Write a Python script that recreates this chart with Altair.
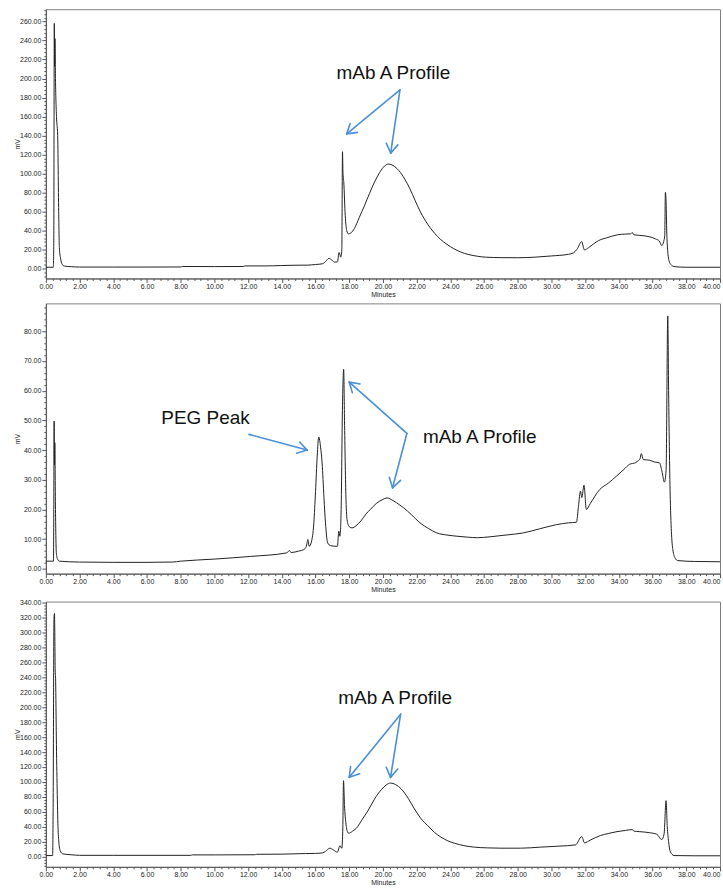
import math
import altair as alt
import pandas as pd

# ---------------- data ----------------
T1 = [0.0, 0.44, 0.47, 0.50, 0.52, 0.54, 0.57, 0.63, 0.70, 0.76, 0.80, 0.88, 0.95, 1.10, 1.5, 2.0, 4.0, 6.0, 8.0, 8.1,
      10.0, 11.7, 11.8, 13.0, 14.0, 15.2, 15.5, 16.0, 16.4, 16.6, 16.8, 17.0, 17.15, 17.3, 17.4, 17.5, 17.56, 17.6, 17.63,
      17.68, 17.75, 17.85, 17.95, 18.1, 18.3, 18.6, 18.9, 19.2, 19.5, 19.8, 20.1, 20.35, 20.6, 20.95, 21.3, 21.6, 21.9,
      22.2, 22.5, 22.8, 23.1, 23.4, 23.8, 24.2, 24.6, 25.1, 25.6, 26.1, 27.0, 28.0, 29.0, 30.0, 31.0, 31.3, 31.5, 31.8,
      31.9, 31.95, 32.2, 32.5, 32.8, 33.3, 33.9, 34.4, 34.7, 34.78, 34.9, 35.5, 36.18, 36.4, 36.54, 36.65, 36.72, 36.76,
      36.8, 36.85, 36.97, 37.1, 37.27, 38.0, 40.0]
V1 = [1.4, 1.4, 30, 258, 213, 242, 200, 160, 140, 60, 22, 10, 5, 2.6, 2.0, 1.6, 1.6, 1.6, 1.7, 2.2,
      2.1, 2.2, 2.8, 2.8, 3.2, 3.6, 3.6, 4.3, 5.0, 7.5, 10.8, 8.5, 6.7, 7.0, 17, 12, 20, 123, 100,
      90, 60, 40, 36.5, 37.5, 42, 54, 66, 79, 91, 101, 108, 110, 108.5, 103, 94, 84, 72,
      60.5, 51, 43, 36.5, 31, 25.5, 21, 17.5, 14.7, 13, 12, 11.5, 11.4, 12.0, 13.3, 15, 16.5, 20, 28.4,
      22, 19.6, 22, 26, 29.5, 32.5, 35.5, 36.3, 36.5, 38, 35.5, 34.5, 31.2, 29, 24.2, 28, 35, 80.3,
      70, 33, 8.4, 4, 2.1, 1.4, 1.4]

T2 = [0.0, 0.45, 0.47, 0.49, 0.51, 0.53, 0.57, 0.62, 0.7, 0.8, 2.0, 4.0, 6.0, 7.5, 8.0, 10.0, 12.15, 14.3, 14.45,
      14.55, 15.0, 15.3, 15.45, 15.55, 15.62, 15.75, 15.9, 16.0, 16.1, 16.19, 16.3, 16.39, 16.5, 16.59, 16.72, 16.9,
      17.3, 17.38, 17.45, 17.52, 17.6, 17.67, 17.72, 17.8, 17.87, 18.0, 18.17, 18.4, 18.7, 19.0, 19.25, 19.6, 20.0,
      20.24, 20.6, 21.0, 21.22, 21.7, 22.2, 22.7, 23.2, 23.8, 24.4, 25.0, 25.6, 26.35, 27.3, 28.32, 29.3, 30.3, 31.0,
      31.48, 31.6, 31.72, 31.8, 31.93, 32.07, 32.3, 32.86, 33.4, 33.85, 34.3, 34.63, 35.0, 35.12, 35.25, 35.33, 35.45,
      35.82, 36.1, 36.41, 36.55, 36.7, 36.8, 36.9, 36.95, 37.05, 37.2, 37.35, 37.49, 38.5, 40.0]
V2 = [2.6, 2.6, 20, 49.8, 35, 42.5, 20, 5.4, 3.2, 2.6, 2.3, 2.2, 2.2, 2.3, 2.6, 3.3, 4.2, 5.4, 6.2,
      5.5, 6.0, 6.5, 7.5, 9.9, 7.6, 9.0, 15.5, 26, 38, 44.4, 41, 35.7, 24, 15.5, 8.8, 7.8,
      7.6, 12.7, 11, 20, 55, 67.2, 50, 25, 16.6, 14.2, 13.8, 14.5, 16.2, 18.5, 20, 22, 23.4,
      23.9, 23, 21.5, 20.6, 18.2, 15.5, 13.6, 12.1, 11.4, 11.0, 10.7, 10.5, 10.8, 11.4, 12.1, 13.5, 14.9, 15.5,
      15.7, 21, 26.2, 24, 28.2, 20, 22, 26.7, 29, 31.2, 33.5, 35.2, 35.8, 36.3, 37, 38.8, 36.8,
      36.6, 36, 35.7, 33, 29.2, 33, 85.2, 60, 23.4, 6.5, 3.5, 2.8, 2.5, 2.4]

T3 = [0.0, 0.40, 0.43, 0.48, 0.51, 0.53, 0.55, 0.58, 0.62, 0.67, 0.72, 0.77, 0.85, 1.0, 1.5, 2.0, 4.0, 6.0, 8.6, 8.7,
      10.0, 12.4, 12.5, 14.0, 15.4, 16.0, 16.4, 16.6, 16.85, 17.05, 17.3, 17.45, 17.56, 17.62, 17.66, 17.72, 17.8,
      17.9, 17.97, 18.2, 18.5, 18.72, 19.1, 19.5, 19.9, 20.2, 20.45, 20.75, 21.09, 21.5, 21.87, 22.25, 22.66, 23.05,
      23.45, 23.85, 24.24, 24.8, 25.42, 26.2, 27.0, 28.17, 29.36, 30.5, 31.42, 31.8, 31.96, 32.3, 32.9, 33.4, 33.89,
      34.4, 34.79, 34.9, 35.2, 35.8, 36.25, 36.54, 36.68, 36.8, 36.87, 36.95, 37.03, 37.15, 37.27, 38.5, 40.0]
V3 = [1.3, 1.3, 60, 318, 325.8, 300, 252, 235, 160, 90.5, 40, 19.2, 8, 3.6, 2.4, 1.6, 1.6, 1.6, 1.6, 2.2,
      2.2, 2.4, 3.0, 3.2, 4.0, 4.2, 4.8, 7, 11.2, 9, 5.8, 14.7, 11, 40, 101.6, 68, 45,
      33, 31.3, 34, 40, 48, 61, 77, 89.5, 96, 98.5, 96.5, 90.5, 78, 63.8, 51, 41.4, 32.5,
      25.9, 21, 17.9, 14.6, 12.6, 11.6, 11.2, 11.2, 12.6, 14, 15.6, 26.7, 18.3, 22, 28.1, 31, 33.4,
      35, 36.1, 34, 33.4, 32, 29.9, 22.7, 30, 74.9, 40, 20, 8, 3, 1.3, 1.0, 1.0]

# annotations: label text, label anchor (min, mV), arrow sources and tips (min, mV)
LABELS = [
    [("mAb A Profile", 17.25, 206.3)],
    [("PEG Peak", 6.85, 50.9), ("mAb A Profile", 22.37, 44.4)],
    [("mAb A Profile", 17.35, 213.1)],
]
ARROWS = [
    [((21.01, 188.1), (17.85, 141.8)), ((21.01, 188.1), (20.46, 121.4))],
    [((12.05, 45.3), (15.5, 40.0)), ((21.42, 45.6), (18.0, 62.9)), ((21.42, 45.6), (20.57, 27.3))],
    [((21.05, 190.8), (18.0, 106.1)), ((21.05, 190.8), (20.45, 106.1))],
]

YDOMAINS = [[-10.4, 273.0], [-1.6, 89.4], [-13.8, 341.7]]
YMAJOR = [20, 10, 20]
YMINOR = [4, 2, 4]
HEIGHTS = [270, 271, 266]
WIDTH = 676
XMAX = 40.0

FONT = "Liberation Sans"
BLUE = "#4a8fd8"


def panel(T, V, ydom, ymaj, ymin_step, height, labels, arrows):
    df = pd.DataFrame({"t": T, "v": V})
    xvals = [round(i * 0.4, 4) for i in range(int(XMAX / 0.4) + 1)]
    lo = math.ceil(ydom[0] / ymin_step)
    hi = math.floor(ydom[1] / ymin_step)
    yvals = [round(k * ymin_step, 4) for k in range(lo, hi + 1)]

    xmajor = "abs(datum.value/2 - round(datum.value/2)) < 0.000001"
    xaxis = alt.Axis(
        values=xvals,
        labelExpr=f"{xmajor} ? format(datum.value, '.2f') : ''",
        tickSize={"condition": {"test": xmajor, "value": 4}, "value": 2},
        labelAlign={"condition": {"test": f"datum.value >= {XMAX}", "value": "right"}, "value": "center"},
        labelOverlap=False, labelFlush=False, labelPadding=0, titlePadding=1, title="Minutes",
    )
    ymajor = f"abs(datum.value/{ymaj} - round(datum.value/{ymaj})) < 0.000001"
    yaxis = alt.Axis(
        values=yvals,
        labelExpr=f"{ymajor} && datum.value >= 0 ? format(datum.value, '.2f') : ''",
        tickSize={"condition": {"test": ymajor, "value": 4}, "value": 2},
        labelOverlap=False, labelFlush=False, labelPadding=1, titlePadding=0,
        minExtent=25, maxExtent=25, title="mV",
    )
    X = alt.X("t:Q", scale=alt.Scale(domain=[0, XMAX], nice=False, zero=False), axis=xaxis)
    Y = alt.Y("v:Q", scale=alt.Scale(domain=ydom, nice=False, zero=False), axis=yaxis)

    line = alt.Chart(df).mark_line(color="#222222", strokeWidth=1, interpolate="monotone").encode(x=X, y=Y)

    ldf = pd.DataFrame({"label": [l[0] for l in labels], "t": [l[1] for l in labels], "v": [l[2] for l in labels]})
    text = alt.Chart(ldf).mark_text(
        align="left", baseline="middle", font=FONT, fontSize=19, color="#111111"
    ).encode(x=X, y=Y, text="label:N")

    # arrow shafts and open heads (heads built in pixel space, converted back to data units)
    sx = WIDTH / XMAX
    sy = height / (ydom[1] - ydom[0])
    segs = []
    for (s, tip) in arrows:
        segs.append((s[0], s[1], tip[0], tip[1]))
        dx = (tip[0] - s[0]) * sx
        dy = -(tip[1] - s[1]) * sy
        n = math.hypot(dx, dy)
        ux, uy = dx / n, dy / n
        L = 11.0
        for ang in (math.radians(32), -math.radians(32)):
            rx = ux * math.cos(ang) - uy * math.sin(ang)
            ry = ux * math.sin(ang) + uy * math.cos(ang)
            hx = tip[0] - L * rx / sx
            hy = tip[1] + L * ry / sy
            segs.append((tip[0], tip[1], hx, hy))
    adf = pd.DataFrame(segs, columns=["t", "v", "t2", "v2"])
    arrows_layer = alt.Chart(adf).mark_rule(color=BLUE, strokeWidth=1.6, strokeCap="round").encode(
        x=X, y=Y, x2="t2:Q", y2="v2:Q"
    )

    return alt.layer(line, arrows_layer, text).properties(width=WIDTH, height=height)


panels = [
    panel(T1, V1, YDOMAINS[0], YMAJOR[0], YMINOR[0], HEIGHTS[0], LABELS[0], ARROWS[0]),
    panel(T2, V2, YDOMAINS[1], YMAJOR[1], YMINOR[1], HEIGHTS[1], LABELS[1], ARROWS[1]),
    panel(T3, V3, YDOMAINS[2], YMAJOR[2], YMINOR[2], HEIGHTS[2], LABELS[2], ARROWS[2]),
]

chart = alt.vconcat(*panels, spacing=4).properties(
    padding={"left": 13, "top": 4, "right": 0, "bottom": 0},
    background="white",
).configure_axis(
    labelFont=FONT, labelFontSize=7, labelColor="#222222",
    titleFont=FONT, titleFontSize=7, titleFontWeight="normal", titleColor="#222222",
    domainColor="#555555", tickColor="#555555", grid=False,
).configure_view(stroke="#808080", strokeWidth=1)

chart.save("out.html", embed_options={"renderer": "svg", "actions": False})
